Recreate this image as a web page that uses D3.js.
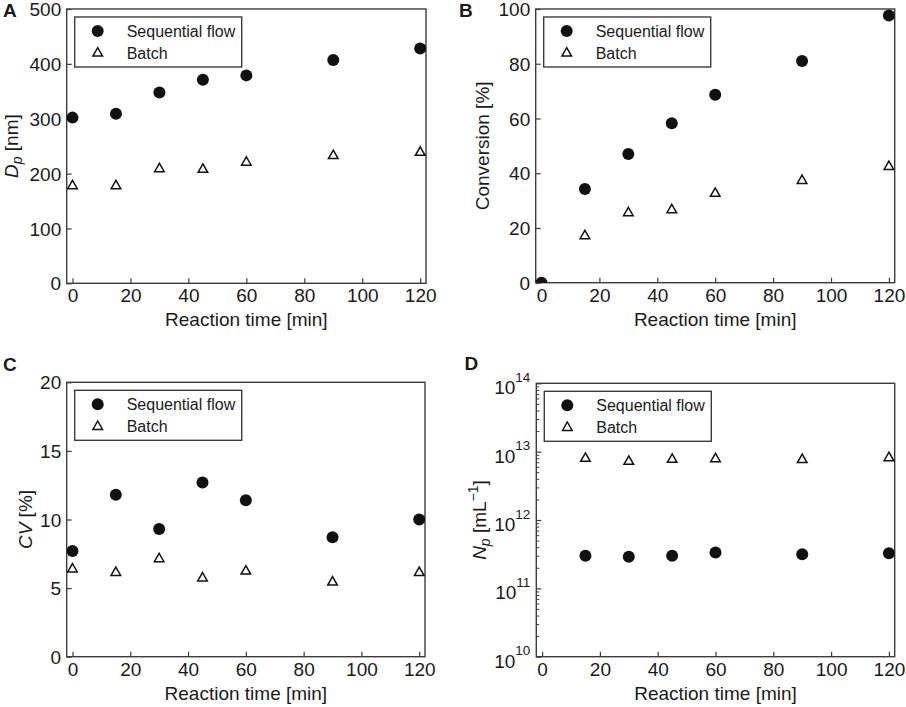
<!DOCTYPE html>
<html><head><meta charset="utf-8">
<script src="https://cdn.jsdelivr.net/npm/d3@7"></script>
<style>body{margin:0;background:#fff}svg{display:block;font-family:"Liberation Sans",Arial,sans-serif}</style>
</head><body>
<svg id="chart" width="906" height="707"></svg>
<script>
// ---- data ----
const timesFull = [0, 15, 30, 45, 60, 90, 120];
const timesLate = [15, 30, 45, 60, 90, 120];
const xTicks = [0, 20, 40, 60, 80, 100, 120];
const seriesNames = ["Sequential flow", "Batch"];

const dpSeq = [302, 309, 348, 371, 379, 407, 428];
const dpBatch = [178, 178, 209, 208, 221, 233, 239];

const convSeq = [0, 34.2, 47.0, 58.3, 68.7, 81.0, 97.6];
const convBatch = [17.2, 25.6, 26.7, 32.7, 37.4, 42.5];

const cvSeq = [7.7, 11.8, 9.3, 12.7, 11.4, 8.7, 10.0];
const cvBatch = [6.4, 6.15, 7.15, 5.75, 6.25, 5.45, 6.15];

const npSeq = [3.0e11, 2.9e11, 3.0e11, 3.35e11, 3.15e11, 3.25e11];
const npBatch = [8.0e12, 7.25e12, 7.75e12, 7.9e12, 7.7e12, 8.2e12];

const yTicksA = [0, 100, 200, 300, 400, 500];
const yTicksB = [0, 20, 40, 60, 80, 100];
const yTicksC = [0, 5, 10, 15, 20];
const yTicksD = [1e10, 1e11, 1e12, 1e13, 1e14];

// ---- layout ----
const panels = [
  {letter:"A", lx:3, ly:17, frame:{x0:66.7,x1:426,y0:9,y1:283.3}, yDomain:[0,500], yTicks:yTicksA,
   seq:{x:timesFull,y:dpSeq}, batch:{x:timesFull,y:dpBatch}, ylabel:"Dp", ylx:17.5},
  {letter:"B", lx:459, ly:17, frame:{x0:535.7,x1:894.7,y0:9,y1:282.7}, yDomain:[0,100], yTicks:yTicksB,
   seq:{x:timesFull,y:convSeq}, batch:{x:timesLate,y:convBatch}, ylabel:"Conv", ylx:489},
  {letter:"C", lx:3, ly:370.5, frame:{x0:66.7,x1:425,y0:382.3,y1:656.7}, yDomain:[0,20], yTicks:yTicksC,
   seq:{x:timesFull,y:cvSeq}, batch:{x:timesFull,y:cvBatch}, ylabel:"CV", ylx:31.5},
  {letter:"D", lx:464.5, ly:370, frame:{x0:536.3,x1:894.7,y0:383.3,y1:656.7}, yDomain:[1e10,1e14], yTicks:yTicksD, log:true,
   seq:{x:timesLate,y:npSeq}, batch:{x:timesLate,y:npBatch}, ylabel:"Np", ylx:486}
];

const svg = d3.select("#chart");
const frameColor = "#3c3c3c";
const textColor = "#1a1a1a";
const triPath = "M0,-5.3L4.8,3.1L-4.8,3.1Z";

panels.forEach((p, i) => {
  const f = p.frame;
  const x = d3.scaleLinear().domain([-2, 122]).range([f.x0, f.x1]);
  const y = (p.log ? d3.scaleLog() : d3.scaleLinear()).domain(p.yDomain).range([f.y1, f.y0]);
  const g = svg.append("g");

  // clip
  const cid = "clip" + i;
  svg.append("defs").append("clipPath").attr("id", cid).append("rect")
    .attr("x", f.x0).attr("y", f.y0).attr("width", f.x1 - f.x0).attr("height", f.y1 - f.y0);

  // x axis
  const xa = g.append("g").attr("transform", `translate(0,${f.y1})`)
    .call(d3.axisBottom(x).tickValues(xTicks).tickSizeInner(-5).tickSizeOuter(0).tickFormat(d3.format("d")));
  xa.select(".domain").remove();
  xa.selectAll("line").attr("stroke", frameColor).attr("stroke-width", 1.2);
  xa.selectAll("text").attr("y", 19).attr("dy", null).attr("font-size", 19).attr("fill", textColor)
    .attr("font-family", "Liberation Sans, Arial, sans-serif");

  // y axis
  const ya = g.append("g").attr("transform", `translate(${f.x0},0)`);
  if (!p.log) {
    ya.call(d3.axisLeft(y).tickValues(p.yTicks).tickSizeInner(-5).tickSizeOuter(0).tickFormat(d3.format("d")));
    ya.selectAll("text").attr("x", -5.5).attr("dy", "0.35em").attr("font-size", 19).attr("fill", textColor)
      .attr("font-family", "Liberation Sans, Arial, sans-serif");
  } else {
    ya.call(d3.axisLeft(y).tickValues(p.yTicks).tickSizeInner(-5).tickSizeOuter(0).tickFormat(""));
    const minor = [];
    for (let e = 10; e < 14; e++) for (let m = 2; m <= 9; m++) minor.push(m * Math.pow(10, e));
    const ym = g.append("g").attr("transform", `translate(${f.x0},0)`)
      .call(d3.axisLeft(y).tickValues(minor).tickSizeInner(-3).tickSizeOuter(0).tickFormat(""));
    ym.select(".domain").remove();
    ym.selectAll("line").attr("stroke", frameColor).attr("stroke-width", 1);
    p.yTicks.forEach(v => {
      const t = g.append("text").attr("x", f.x0 - 6).attr("y", y(v) + 11)
        .attr("text-anchor", "end").attr("fill", textColor).attr("font-size", 19);
      t.append("tspan").text("10");
      t.append("tspan").attr("font-size", 13.5).attr("dy", -12.5).text(Math.round(Math.log10(v)));
    });
  }
  ya.select(".domain").remove();
  ya.selectAll("line").attr("stroke", frameColor).attr("stroke-width", 1.2);

  // frame
  g.append("rect").attr("x", f.x0).attr("y", f.y0).attr("width", f.x1 - f.x0).attr("height", f.y1 - f.y0)
    .attr("fill", "none").attr("stroke", frameColor).attr("stroke-width", 1.4);

  // marks
  const mg = g.append("g").attr("clip-path", `url(#${cid})`);
  mg.selectAll("path.tri").data(p.batch.x.map((t, k) => [t, p.batch.y[k]])).join("path")
    .attr("class", "tri").attr("d", triPath)
    .attr("transform", d => `translate(${x(d[0])},${y(d[1])})`)
    .attr("fill", "none").attr("stroke", "#111").attr("stroke-width", 1.5);
  mg.selectAll("circle").data(p.seq.x.map((t, k) => [t, p.seq.y[k]])).join("circle")
    .attr("cx", d => x(d[0])).attr("cy", d => y(d[1])).attr("r", 6).attr("fill", "#111");

  // legend
  const lgx = f.x0 + 8, lgy = f.y0 + 8;
  const lg = g.append("g");
  lg.append("rect").attr("x", lgx).attr("y", lgy).attr("width", 167).attr("height", 50)
    .attr("fill", "#fff").attr("stroke", frameColor).attr("stroke-width", 1.4);
  lg.append("circle").attr("cx", lgx + 23).attr("cy", lgy + 14).attr("r", 6).attr("fill", "#111");
  lg.append("path").attr("d", triPath).attr("transform", `translate(${lgx + 23},${lgy + 36})`)
    .attr("fill", "none").attr("stroke", "#111").attr("stroke-width", 1.5);
  seriesNames.forEach((n, k) => {
    lg.append("text").attr("x", lgx + 52).attr("y", lgy + 14 + k * 22 + 5.8)
      .attr("font-size", 16).attr("fill", textColor).text(n);
  });

  // x title
  g.append("text").attr("x", (f.x0 + f.x1) / 2).attr("y", f.y1 + 43).attr("text-anchor", "middle")
    .attr("font-size", 19).attr("fill", textColor).text("Reaction time [min]");

  // y title
  const cy = (f.y0 + f.y1) / 2;
  const yt = g.append("text").attr("transform", `translate(${p.ylx},${cy}) rotate(-90)`)
    .attr("text-anchor", "middle").attr("font-size", 19).attr("fill", textColor);
  if (p.ylabel === "Dp") {
    yt.append("tspan").attr("font-style", "italic").text("D");
    yt.append("tspan").attr("font-style", "italic").attr("font-size", 14).attr("dy", 4).text("p");
    yt.append("tspan").attr("dy", -4).text(" [nm]");
  } else if (p.ylabel === "Conv") {
    yt.text("Conversion [%]");
  } else if (p.ylabel === "CV") {
    yt.append("tspan").attr("font-style", "italic").text("CV");
    yt.append("tspan").text(" [%]");
  } else {
    yt.append("tspan").attr("font-style", "italic").text("N");
    yt.append("tspan").attr("font-style", "italic").attr("font-size", 14).attr("dy", 4).text("p");
    yt.append("tspan").attr("dy", -4).text(" [mL");
    yt.append("tspan").attr("font-size", 14).attr("dy", -8).text("\u22121");
    yt.append("tspan").attr("dy", 8).text("]");
  }

  // panel letter
  g.append("text").attr("x", p.lx).attr("y", p.ly).attr("font-size", 19).attr("font-weight", "bold")
    .attr("fill", textColor).text(p.letter);
});
</script>
</body></html>
